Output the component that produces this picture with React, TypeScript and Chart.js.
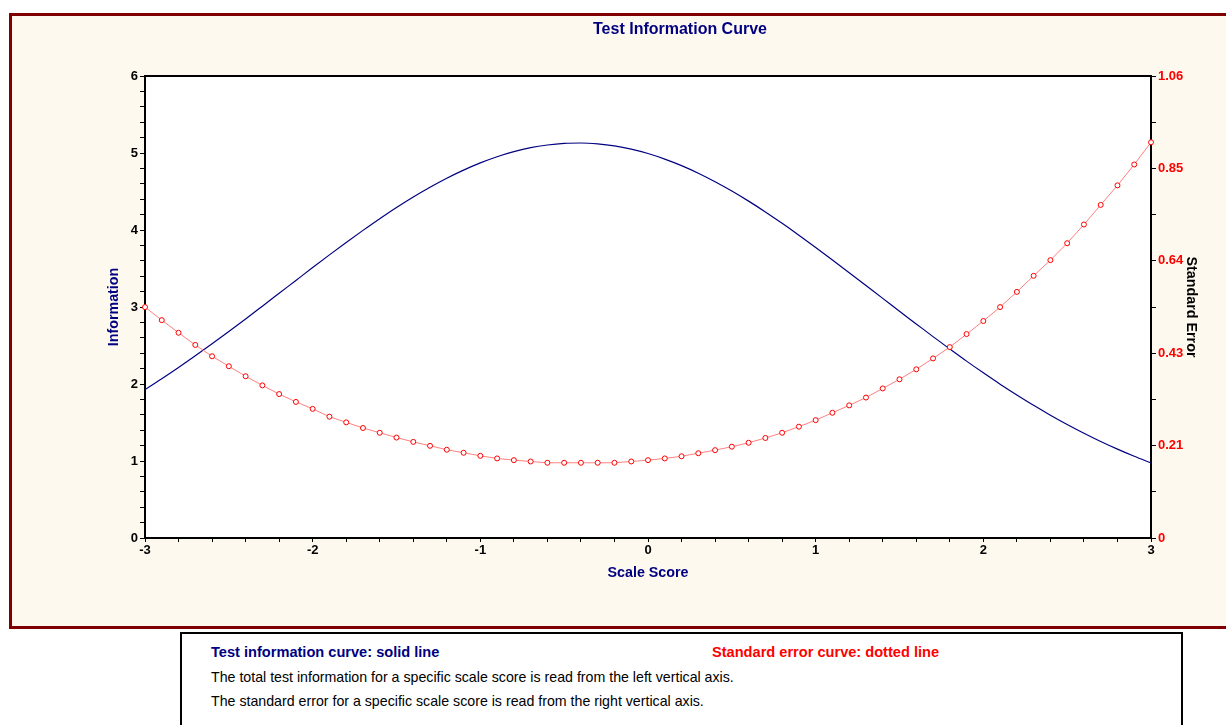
import React, { useEffect, useRef } from 'react';
import { Chart, registerables } from 'chart.js';

Chart.register(...registerables);

// ---- data ----
const SCALE_SCORES = [
  -3.0, -2.9, -2.8, -2.7, -2.6, -2.5, -2.4, -2.3, -2.2, -2.1,
  -2.0, -1.9, -1.8, -1.7, -1.6, -1.5, -1.4, -1.3, -1.2, -1.1,
  -1.0, -0.9, -0.8, -0.7, -0.6, -0.5, -0.4, -0.3, -0.2, -0.1,
  0.0, 0.1, 0.2, 0.3, 0.4, 0.5, 0.6, 0.7, 0.8, 0.9,
  1.0, 1.1, 1.2, 1.3, 1.4, 1.5, 1.6, 1.7, 1.8, 1.9,
  2.0, 2.1, 2.2, 2.3, 2.4, 2.5, 2.6, 2.7, 2.8, 2.9, 3.0,
];

const INFORMATION = [
  1.928, 2.068, 2.214, 2.366, 2.522, 2.682, 2.845, 3.011, 3.178, 3.345,
  3.512, 3.677, 3.838, 3.995, 4.147, 4.292, 4.429, 4.556, 4.673, 4.778,
  4.872, 4.952, 5.017, 5.069, 5.104, 5.125, 5.13, 5.118, 5.092, 5.05,
  4.993, 4.921, 4.836, 4.738, 4.627, 4.506, 4.375, 4.235, 4.087, 3.933,
  3.774, 3.611, 3.446, 3.279, 3.112, 2.944, 2.78, 2.615, 2.455, 2.297,
  2.145, 1.998, 1.858, 1.723, 1.595, 1.474, 1.36, 1.253, 1.154, 1.061, 0.974,
];

const STANDARD_ERROR = [
  0.531, 0.501, 0.472, 0.444, 0.418, 0.395, 0.372, 0.351, 0.331, 0.313,
  0.297, 0.279, 0.266, 0.253, 0.242, 0.231, 0.221, 0.212, 0.203, 0.196,
  0.189, 0.183, 0.179, 0.176, 0.173, 0.173, 0.173, 0.173, 0.173, 0.176,
  0.179, 0.183, 0.188, 0.195, 0.202, 0.21, 0.219, 0.23, 0.242, 0.256,
  0.271, 0.288, 0.305, 0.323, 0.344, 0.365, 0.388, 0.413, 0.439, 0.469,
  0.499, 0.531, 0.566, 0.603, 0.639, 0.678, 0.721, 0.766, 0.811, 0.859, 0.91,
];

const X_TICK_LABELS = ['-3', '-2', '-1', '0', '1', '2', '3'];
const LEFT_TICK_LABELS = ['0', '1', '2', '3', '4', '5', '6'];
const RIGHT_TICK_LABELS = ['0', '0.21', '0.43', '0.64', '0.85', '1.06'];
const RIGHT_AXIS_MAX = 1.0625;

const FONT = '"Liberation Sans", Arial, sans-serif';
const NAVY = '#000080';

const plotFrame = {
  id: 'plotFrame',
  beforeDraw(chart: any) {
    const { ctx, chartArea: a } = chart;
    ctx.save();
    ctx.fillStyle = '#ffffff';
    ctx.fillRect(a.left, a.top, a.right - a.left, a.bottom - a.top);
    ctx.restore();
  },
  afterDraw(chart: any) {
    const { ctx, chartArea: a } = chart;
    ctx.save();
    ctx.strokeStyle = '#000';
    ctx.lineWidth = 2;
    ctx.beginPath();
    ctx.moveTo(a.left - 1, a.top);
    ctx.lineTo(a.right + 1, a.top);
    ctx.stroke();
    ctx.restore();
  },
};

function ChartCanvas() {
  const ref = useRef<HTMLCanvasElement | null>(null);

  useEffect(() => {
    if (!ref.current) return;
    const tickFont = { family: FONT, size: 13, weight: 'bold' as const };
    const titleFont = { family: FONT, size: 14.3, weight: 'bold' as const };
    const chart = new Chart(ref.current, {
      type: 'line',
      data: {
        datasets: [
          {
            label: 'Standard Error',
            data: SCALE_SCORES.map((x, i) => ({ x, y: STANDARD_ERROR[i] })),
            yAxisID: 'y1',
            borderColor: '#FF8080',
            borderWidth: 1,
            pointRadius: 2.5,
            pointBorderWidth: 1,
            pointBorderColor: '#FF0000',
            pointBackgroundColor: '#ffffff',
            tension: 0,
            clip: false as any,
          },
          {
            label: 'Information',
            data: SCALE_SCORES.map((x, i) => ({ x, y: INFORMATION[i] })),
            yAxisID: 'y',
            borderColor: NAVY,
            borderWidth: 1.2,
            pointRadius: 0,
            cubicInterpolationMode: 'monotone',
          },
        ],
      },
      options: {
        responsive: false,
        animation: false,
        layout: { padding: { top: 60, left: 0, right: 0, bottom: 0 } },
        plugins: {
          legend: { display: false },
          tooltip: { enabled: false },
          title: { display: false },
        },
        scales: {
          x: {
            type: 'linear',
            position: 'bottom',
            min: -3,
            max: 3,
            afterBuildTicks: (s: any) => {
              const t = [];
              for (let k = 0; k <= 30; k++) t.push({ value: Math.round((-3 + k * 0.2) * 10) / 10 });
              s.ticks = t;
            },
            afterFit: (s: any) => {
              s.height = 88;
            },
            ticks: {
              autoSkip: false,
              maxRotation: 0,
              padding: 1,
              color: '#000',
              font: tickFont,
              callback: (_v: any, i: number) => (i % 5 === 0 ? X_TICK_LABELS[i / 5] : ''),
            },
            grid: { drawOnChartArea: false, drawTicks: true, tickLength: 4, color: '#000', lineWidth: 1 },
            border: { display: true, color: '#000', width: 2 },
            title: {
              display: true,
              text: 'Scale Score',
              color: NAVY,
              font: titleFont,
              padding: { top: 0, bottom: 44 },
            },
          },
          y: {
            type: 'linear',
            position: 'left',
            min: 0,
            max: 6,
            afterBuildTicks: (s: any) => {
              const t = [];
              for (let k = 0; k <= 30; k++) t.push({ value: Math.round(k * 0.2 * 10) / 10 });
              s.ticks = t;
            },
            afterFit: (s: any) => {
              s.width = 133;
            },
            ticks: {
              autoSkip: false,
              padding: 2,
              color: '#000',
              font: tickFont,
              callback: (_v: any, i: number) => (i % 5 === 0 ? LEFT_TICK_LABELS[i / 5] : ''),
            },
            grid: { drawOnChartArea: false, drawTicks: true, tickLength: 5, color: '#000', lineWidth: 1 },
            border: { display: true, color: '#000', width: 2 },
            title: {
              display: true,
              text: 'Information',
              color: NAVY,
              font: titleFont,
              padding: { top: 93, bottom: 0 },
            },
          },
          y1: {
            type: 'linear',
            position: 'right',
            min: 0,
            max: RIGHT_AXIS_MAX,
            afterBuildTicks: (s: any) => {
              const t = [];
              for (let k = 0; k <= 10; k++) t.push({ value: (k * RIGHT_AXIS_MAX) / 10 });
              s.ticks = t;
            },
            afterFit: (s: any) => {
              s.width = 75;
            },
            ticks: {
              autoSkip: false,
              padding: 2,
              color: '#FF0000',
              font: tickFont,
              callback: (_v: any, i: number) => (i % 2 === 0 ? RIGHT_TICK_LABELS[i / 2] : ''),
            },
            grid: { drawOnChartArea: false, drawTicks: true, tickLength: 5, color: '#000', lineWidth: 1 },
            border: { display: true, color: '#000', width: 2 },
            title: {
              display: true,
              text: 'Standard Error',
              color: '#000',
              font: titleFont,
              padding: { top: 26, bottom: 0 },
            },
          },
        },
      } as any,
      plugins: [plotFrame],
    });
    return () => chart.destroy();
  }, []);

  return (
    <canvas
      ref={ref}
      width={1214}
      height={610}
      style={{ position: 'absolute', left: 0, top: 0, width: 1214, height: 610 }}
    />
  );
}

export default function App() {
  return (
    <div
      style={{
        position: 'fixed',
        left: 0,
        top: 0,
        width: 1226,
        height: 725,
        overflow: 'hidden',
        background: '#ffffff',
        fontFamily: FONT,
      }}
    >
      <div
        style={{
          position: 'absolute',
          left: 9,
          top: 13,
          width: 1240,
          height: 610,
          border: '3px solid #800000',
          background: '#FDF9EE',
        }}
      >
        <ChartCanvas />
        <div
          style={{
            position: 'absolute',
            left: 668,
            top: 13,
            transform: 'translate(-50%, -50%)',
            whiteSpace: 'nowrap',
            color: NAVY,
            fontWeight: 'bold',
            fontSize: 16,
            lineHeight: '20px',
          }}
        >
          Test Information Curve
        </div>
      </div>
      <div
        style={{
          position: 'absolute',
          left: 180,
          top: 632,
          width: 999,
          height: 120,
          border: '2px solid #000',
          background: '#ffffff',
          fontSize: 14.2,
          lineHeight: '20px',
          whiteSpace: 'nowrap',
        }}
      >
        <div style={{ position: 'absolute', left: 29, top: 8, color: NAVY, fontWeight: 'bold', fontSize: 14.6 }}>
          Test information curve: solid line
        </div>
        <div style={{ position: 'absolute', left: 530, top: 8, color: '#FF0000', fontWeight: 'bold', fontSize: 14.6 }}>
          Standard error curve: dotted line
        </div>
        <div style={{ position: 'absolute', left: 29, top: 33, color: '#000' }}>
          The total test information for a specific scale score is read from the left vertical axis.
        </div>
        <div style={{ position: 'absolute', left: 29, top: 57, color: '#000' }}>
          The standard error for a specific scale score is read from the right vertical axis.
        </div>
      </div>
    </div>
  );
}
